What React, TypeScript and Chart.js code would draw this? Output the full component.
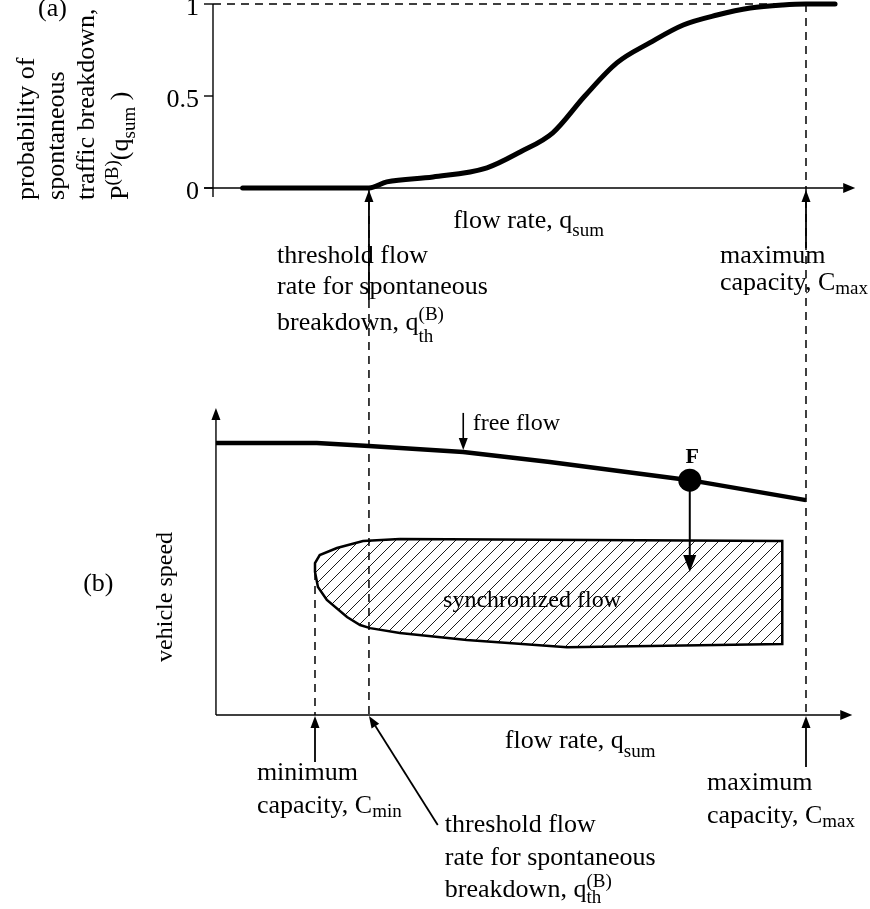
import React, { useEffect, useRef } from 'react';
import { Chart, registerables } from 'chart.js';

Chart.register(...registerables);

// Flow-rate units: 0 = axis origin, 100 = maximum capacity C_max
const Q_TH = 26.3;
const C_MIN = 17.2;
const C_MAX = 100;

// (a) probability of spontaneous breakdown
const probQ = [5, 26.3, 29.3, 37.1, 46.2, 51.8, 57.3, 62.7, 68.1, 73.7, 79.3, 85, 90.6, 96.1, 100, 104.9];
const probP = [0, 0, 0.033, 0.06, 0.11, 0.196, 0.3, 0.5, 0.68, 0.79, 0.886, 0.94, 0.978, 0.995, 1, 1];
const probTicks = [0, 0.5, 1];
const probTickLabels = ['0', '0.5', '1'];

// (b) free flow speed
const freeQ = [0.5, 17.5, 26.3, 42.2, 56.8, 80.4, 100];
const freeV = [88.6, 88.6, 87.6, 85.7, 82.4, 76.5, 70.0];

// (b) synchronized flow region outline
const syncQ = [31.5, 96.0, 96.0, 59.7, 42.8, 31.5, 26.5, 24.8, 22.6, 19.2, 17.7, 17.2, 17.2, 18.0, 20.9, 25.3, 31.5];
const syncV = [57.3, 56.7, 23.1, 22.1, 24.4, 26.7, 28.3, 29.3, 31.9, 37.5, 41.7, 46.6, 49.5, 52.1, 54.4, 56.7, 57.3];

// point F
const fQ = [80.4];
const fV = [76.5];
const fDrop = 46.6;

const FONT = '"Liberation Serif", "Times New Roman", serif';

type Run = { t: string; s?: number; dy?: number; back?: boolean };
type Label = {
  axis: 'yA' | 'yB';
  q: number;
  v: number;
  runs: Run[];
  size?: number;
  align?: 'left' | 'center';
  rotate?: boolean;
  bold?: boolean;
};

const labels: Label[] = [
  { axis: 'yA', q: -29.5, v: 0.935, runs: [{ t: '(a)' }] },
  { axis: 'yA', q: -30.2, v: -0.065, rotate: true, runs: [{ t: 'probability of' }] },
  { axis: 'yA', q: -25.2, v: -0.065, rotate: true, runs: [{ t: 'spontaneous' }] },
  { axis: 'yA', q: -20.1, v: -0.065, rotate: true, runs: [{ t: 'traffic breakdown,' }] },
  {
    axis: 'yA', q: -14.4, v: -0.065, rotate: true,
    runs: [{ t: 'P' }, { t: '(B)', s: 19, dy: -10 }, { t: '(q' }, { t: 'sum', s: 19, dy: 7 }, { t: ' )' }],
  },
  { axis: 'yA', q: 40.5, v: -0.217, runs: [{ t: 'flow rate, q' }, { t: 'sum', s: 19, dy: 8 }] },
  { axis: 'yA', q: 10.8, v: -0.408, runs: [{ t: 'threshold flow' }] },
  { axis: 'yA', q: 10.8, v: -0.576, runs: [{ t: 'rate for spontaneous' }] },
  {
    axis: 'yA', q: 10.8, v: -0.772,
    runs: [{ t: 'breakdown, q' }, { t: '(B)', s: 19, dy: -10 }, { t: 'th', s: 19, dy: 12, back: true }],
  },
  { axis: 'yA', q: 85.5, v: -0.408, runs: [{ t: 'maximum' }] },
  { axis: 'yA', q: 85.5, v: -0.554, runs: [{ t: 'capacity, C' }, { t: 'max', s: 19, dy: 4 }] },

  { axis: 'yB', q: -21.9, v: 40.4, runs: [{ t: '(b)' }] },
  { axis: 'yB', q: -6.9, v: 17.3, rotate: true, size: 24, runs: [{ t: 'vehicle speed' }] },
  { axis: 'yB', q: 49.2, v: -10.7, runs: [{ t: 'flow rate, q' }, { t: 'sum', s: 19, dy: 9 }] },
  { axis: 'yB', q: 7.4, v: -21.2, runs: [{ t: 'minimum' }] },
  { axis: 'yB', q: 7.4, v: -31.9, runs: [{ t: 'capacity, C' }, { t: 'min', s: 19, dy: 4 }] },
  { axis: 'yB', q: 39.1, v: -38.1, runs: [{ t: 'threshold flow' }] },
  { axis: 'yB', q: 39.1, v: -48.9, runs: [{ t: 'rate for spontaneous' }] },
  {
    axis: 'yB', q: 39.1, v: -59.3,
    runs: [{ t: 'breakdown, q' }, { t: '(B)', s: 19, dy: -10 }, { t: 'th', s: 19, dy: 6, back: true }],
  },
  { axis: 'yB', q: 83.3, v: -24.4, runs: [{ t: 'maximum' }] },
  { axis: 'yB', q: 83.3, v: -35.2, runs: [{ t: 'capacity, C' }, { t: 'max', s: 19, dy: 4 }] },
  { axis: 'yB', q: 43.8, v: 92.8, size: 24, runs: [{ t: 'free flow' }] },
  { axis: 'yB', q: 53.8, v: 35.2, size: 24, align: 'center', runs: [{ t: 'synchronized flow' }] },
  { axis: 'yB', q: 80.8, v: 82.1, size: 22, bold: true, align: 'center', runs: [{ t: 'F' }] },
];

function arrow(ctx: CanvasRenderingContext2D, x1: number, y1: number, x2: number, y2: number, len = 12, hw = 4.5, lw = 1.8) {
  const ang = Math.atan2(y2 - y1, x2 - x1);
  const bx = x2 - len * Math.cos(ang);
  const by = y2 - len * Math.sin(ang);
  ctx.lineWidth = lw;
  ctx.setLineDash([]);
  ctx.beginPath();
  ctx.moveTo(x1, y1);
  ctx.lineTo(bx, by);
  ctx.stroke();
  ctx.beginPath();
  ctx.moveTo(x2, y2);
  ctx.lineTo(bx + hw * Math.sin(ang), by - hw * Math.cos(ang));
  ctx.lineTo(bx - hw * Math.sin(ang), by + hw * Math.cos(ang));
  ctx.closePath();
  ctx.fill();
}

function line(ctx: CanvasRenderingContext2D, x1: number, y1: number, x2: number, y2: number, lw = 1.5, dash: number[] = []) {
  ctx.lineWidth = lw;
  ctx.setLineDash(dash);
  ctx.beginPath();
  ctx.moveTo(x1, y1);
  ctx.lineTo(x2, y2);
  ctx.stroke();
  ctx.setLineDash([]);
}

const diagramPlugin = {
  id: 'diagram',
  beforeDatasetsDraw(chart: any) {
    const ctx: CanvasRenderingContext2D = chart.ctx;
    const X = (v: number) => chart.scales.x.getPixelForValue(v);
    const A = (v: number) => chart.scales.yA.getPixelForValue(v);
    const B = (v: number) => chart.scales.yB.getPixelForValue(v);
    ctx.save();
    ctx.strokeStyle = '#000';
    ctx.fillStyle = '#000';
    const DASH = [8, 6];

    // panel (a) axes
    line(ctx, X(0), A(1), X(0), A(-0.049), 1.4);
    probTicks.forEach((t) => line(ctx, X(0) - 9, A(t), X(0), A(t), 1.4));
    arrow(ctx, X(-1.5), A(0), X(108.3), A(0), 12, 5, 1.4);
    ctx.font = `26px ${FONT}`;
    ctx.textAlign = 'right';
    ctx.textBaseline = 'middle';
    probTicks.forEach((t, i) => ctx.fillText(probTickLabels[i], X(0) - 14, A(t) + 4));

    // panel (b) axes
    arrow(ctx, X(0.5), B(0), X(0.5), B(100), 12, 4.5, 1.4);
    arrow(ctx, X(0.5), B(0), X(107.8), B(0), 12, 5, 1.4);

    // dashed guides
    line(ctx, X(0), A(1), X(C_MAX), A(1), 1.4, DASH);
    line(ctx, X(Q_TH), A(0), X(Q_TH), B(0), 1.5, DASH);
    line(ctx, X(C_MAX), A(1), X(C_MAX), B(0), 1.5, DASH);
    line(ctx, X(C_MIN), B(46.6), X(C_MIN), B(0), 1.5, DASH);
    ctx.restore();
  },
  afterDatasetsDraw(chart: any) {
    const ctx: CanvasRenderingContext2D = chart.ctx;
    const X = (v: number) => chart.scales.x.getPixelForValue(v);
    const A = (v: number) => chart.scales.yA.getPixelForValue(v);
    const B = (v: number) => chart.scales.yB.getPixelForValue(v);
    ctx.save();
    ctx.strokeStyle = '#000';
    ctx.fillStyle = '#000';

    // annotation arrows, panel (a)
    arrow(ctx, X(Q_TH), A(-0.609), X(Q_TH), A(-0.011), 12, 4.5, 1.8);
    arrow(ctx, X(C_MAX), A(-0.326), X(C_MAX), A(-0.011), 12, 4.5, 1.8);
    // panel (b)
    arrow(ctx, X(C_MIN), B(-15.3), X(C_MIN), B(-0.3), 12, 4.5, 1.8);
    arrow(ctx, X(37.9), B(-35.8), X(Q_TH), B(-0.3), 12, 4.5, 1.8);
    arrow(ctx, X(C_MAX), B(-16.9), X(C_MAX), B(-0.3), 12, 4.5, 1.8);
    arrow(ctx, X(42.2), B(98.4), X(42.2), B(86.3), 12, 4.5, 1.6);
    arrow(ctx, X(fQ[0]), B(fV[0]), X(fQ[0]), B(fDrop), 17, 6.5, 2);

    // texts
    labels.forEach((lb) => {
      const size = lb.size ?? 26;
      const px = X(lb.q);
      const py = lb.axis === 'yA' ? A(lb.v) : B(lb.v);
      ctx.save();
      ctx.translate(px, py);
      if (lb.rotate) ctx.rotate(-Math.PI / 2);
      ctx.textBaseline = 'alphabetic';
      ctx.textAlign = 'left';
      const weight = lb.bold ? 'bold ' : '';
      let total = 0;
      let prevStart = 0;
      const widths = lb.runs.map((r) => {
        ctx.font = `${weight}${r.s ?? size}px ${FONT}`;
        return ctx.measureText(r.t).width;
      });
      lb.runs.forEach((r, i) => {
        if (r.back) total = Math.max(total, prevStart + widths[i]);
        else { prevStart = total; total += widths[i]; }
      });
      const x0 = lb.align === 'center' ? -total / 2 : 0;
      let cx = x0;
      prevStart = x0;
      lb.runs.forEach((r, i) => {
        ctx.font = `${weight}${r.s ?? size}px ${FONT}`;
        if (r.back) {
          ctx.fillText(r.t, prevStart, r.dy ?? 0);
        } else {
          ctx.fillText(r.t, cx, r.dy ?? 0);
          prevStart = cx;
          cx += widths[i];
        }
      });
      ctx.restore();
    });
    ctx.restore();
  },
};

export default function App() {
  const ref = useRef<HTMLCanvasElement | null>(null);

  useEffect(() => {
    document.body.style.margin = '0';
    const canvas = ref.current;
    if (!canvas) return;
    const ctx = canvas.getContext('2d')!;

    const T = 12;
    const pc = document.createElement('canvas');
    pc.width = T;
    pc.height = T;
    const g = pc.getContext('2d')!;
    g.strokeStyle = '#000';
    g.lineWidth = 0.9;
    g.beginPath();
    g.moveTo(-1, T + 1); g.lineTo(T + 1, -1);
    g.moveTo(-2, 2); g.lineTo(2, -2);
    g.moveTo(T - 2, T + 2); g.lineTo(T + 2, T - 2);
    g.stroke();
    const hatch = ctx.createPattern(pc, 'repeat');

    const chart = new Chart(canvas, {
      type: 'scatter',
      data: {
        datasets: [
          {
            label: 'F',
            data: fQ.map((q, i) => ({ x: q, y: fV[i] })),
            yAxisID: 'yB',
            showLine: false,
            pointRadius: 11.5,
            pointBackgroundColor: '#000',
            pointBorderColor: '#000',
            pointBorderWidth: 0,
          },
          {
            label: 'free flow',
            data: freeQ.map((q, i) => ({ x: q, y: freeV[i] })),
            yAxisID: 'yB',
            showLine: true,
            borderColor: '#000',
            borderWidth: 4.5,
            pointRadius: 0,
            tension: 0,
            borderJoinStyle: 'round',
          },
          {
            label: 'P(B)',
            data: probQ.map((q, i) => ({ x: q, y: probP[i] })),
            yAxisID: 'yA',
            showLine: true,
            borderColor: '#000',
            borderWidth: 5,
            pointRadius: 0,
            cubicInterpolationMode: 'monotone',
            borderCapStyle: 'round',
            borderJoinStyle: 'round',
          },
          {
            label: 'synchronized flow',
            data: syncQ.map((q, i) => ({ x: q, y: syncV[i] })),
            yAxisID: 'yB',
            showLine: true,
            borderColor: '#000',
            borderWidth: 2.5,
            pointRadius: 0,
            tension: 0,
            fill: 'shape',
            backgroundColor: hatch as any,
          },
        ],
      },
      options: {
        responsive: false,
        animation: false,
        devicePixelRatio: 1,
        events: [],
        layout: { padding: 0, autoPadding: false },
        plugins: { legend: { display: false }, tooltip: { enabled: false } },
        scales: {
          x: { type: 'linear', display: false, min: -35.919, max: 110.793, bounds: 'data' },
          yA: { type: 'linear', display: false, min: -3.91848, max: 1.02174, bounds: 'data' },
          yB: { type: 'linear', display: false, min: -63.192, max: 232.899, bounds: 'data' },
        },
      } as any,
      plugins: [diagramPlugin],
    });
    return () => chart.destroy();
  }, []);

  return (
    <div style={{ position: 'absolute', left: 0, top: 0, width: 870, height: 909, background: '#fff' }}>
      <canvas ref={ref} width={870} height={909} style={{ display: 'block', width: 870, height: 909 }} />
    </div>
  );
}
